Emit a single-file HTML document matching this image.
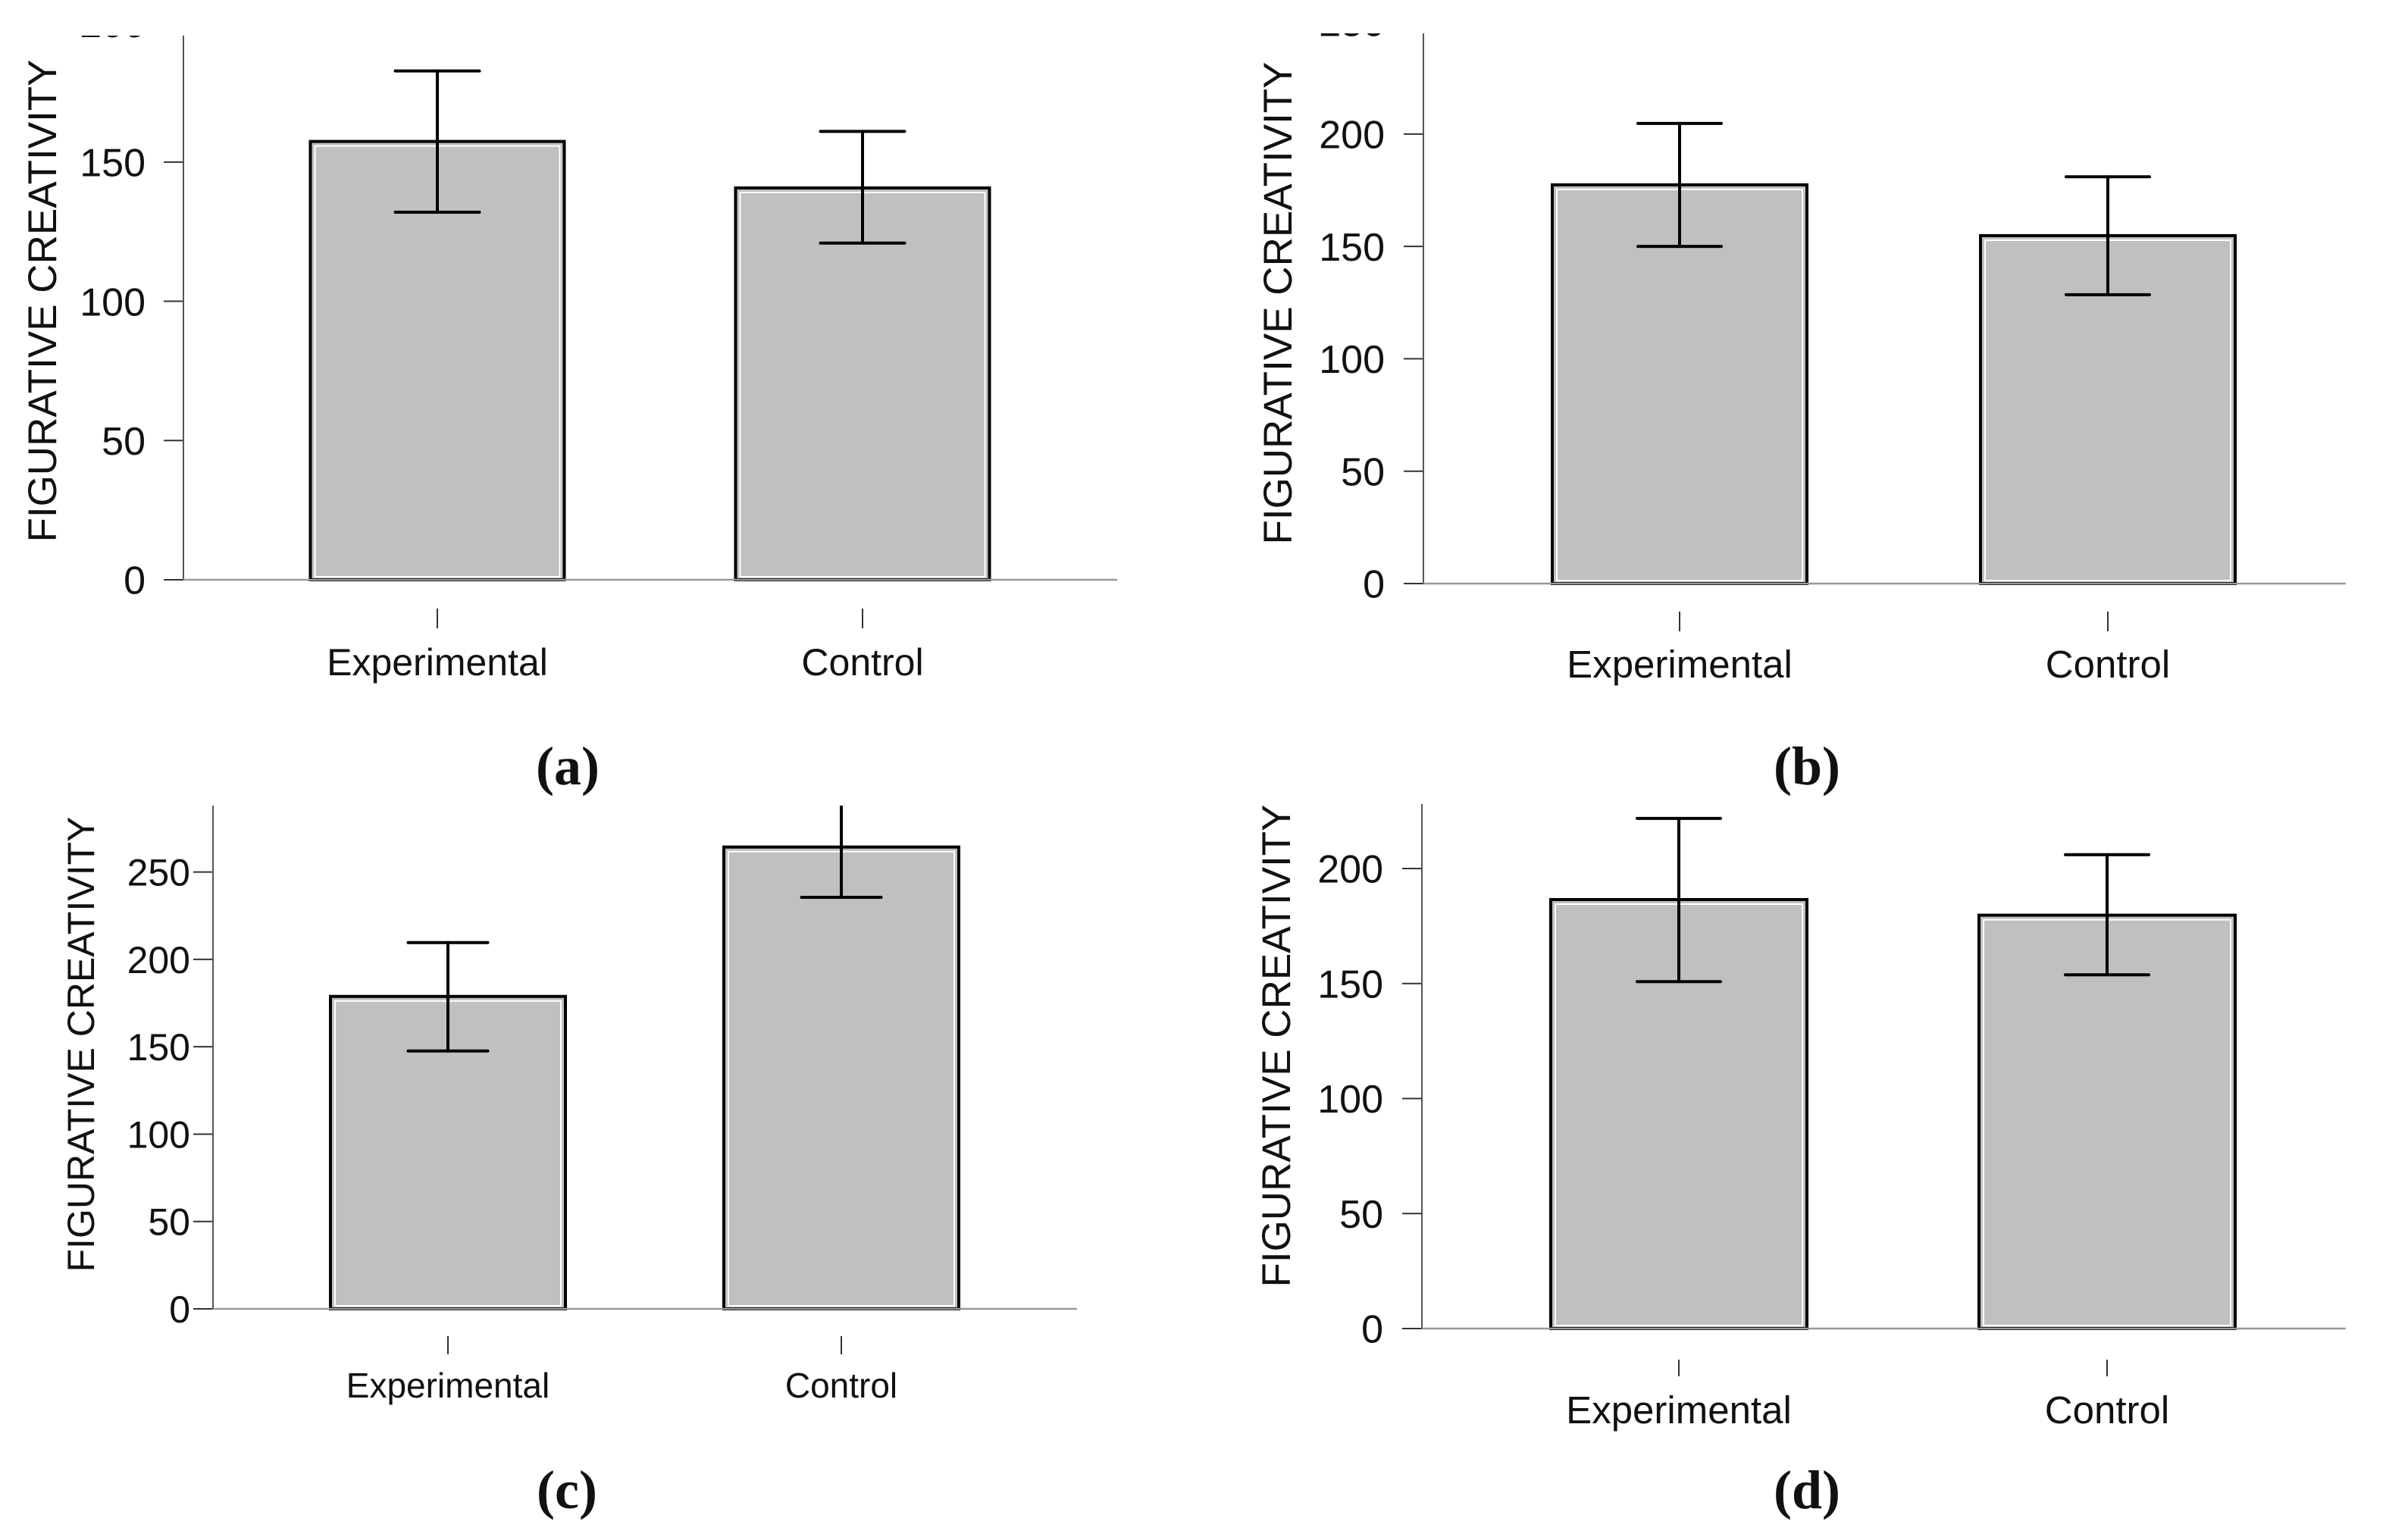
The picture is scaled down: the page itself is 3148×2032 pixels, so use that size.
<!DOCTYPE html>
<html><head><meta charset="utf-8"><style>
html,body{margin:0;padding:0;background:#fff;}
svg{display:block;}
text{font-family:"Liberation Sans",Arial,sans-serif;fill:#111;}
.pl{font-family:"Liberation Serif",serif;font-weight:bold;}
</style></head><body>
<svg id="fig" width="3148" height="2032" viewBox="0 0 3148 2032" xmlns="http://www.w3.org/2000/svg"></svg>
<script>
// ---- data ----
const categories = ["Experimental", "Control"];
const panelLetters = ["a", "b", "c", "d"];
const meansA = [157.4, 140.7];
const upperA = [182.7, 161.0];
const lowerA = [132.0, 120.9];
const meansB = [177.4, 154.8];
const upperB = [204.7, 181.0];
const lowerB = [150.0, 128.5];
const meansC = [178.8, 264.3];
const upperC = [209.6, 292.0];
const lowerC = [147.6, 235.5];
const meansD = [186.5, 179.7];
const upperD = [221.8, 206.0];
const lowerD = [150.8, 153.8];
const tickValues = [0, 50, 100, 150, 200, 250, 300];
const yTitle = "FIGURATIVE CREATIVITY";

// ---- layout (pixel geometry only) ----
const layouts = [
 {ox:0, ax:242, top:47, zero:765, yMax:195.4, end:1474, centers:[577,1138], bw:335, cap:111, tickY:[803,829], lblY:891, lblFs:50, tlFs:52, tlX:192, titleX:74, titleY:397, titleFs:53, plX:749, plY:1035},
 {ox:1574, ax:1878, top:44, zero:770, yMax:244.8, end:3095, centers:[2216,2781], bw:336, cap:110, tickY:[807,833], lblY:894, lblFs:51, tlFs:52, tlX:1827, titleX:1704, titleY:400, titleFs:53, plX:2384, plY:1035},
 {ox:0, ax:281, top:1063, zero:1727, yMax:288, end:1421, centers:[591,1110], bw:310, cap:105, tickY:[1763,1787], lblY:1844, lblFs:46, tlFs:50, tlX:251, titleX:124, titleY:1378, titleFs:50, plX:748, plY:1990},
 {ox:1574, ax:1876, top:1061, zero:1753, yMax:228, end:3095, centers:[2215,2780], bw:338, cap:110, tickY:[1794,1816], lblY:1878, lblFs:51, tlFs:52, tlX:1825, titleX:1702, titleY:1380, titleFs:53, plX:2384, plY:1990}
];
const panelData = [[meansA,upperA,lowerA],[meansB,upperB,lowerB],[meansC,upperC,lowerC],[meansD,upperD,lowerD]];

const NS = "http://www.w3.org/2000/svg";
const svg = document.getElementById("fig");
function mk(tag, attrs, parent){
  const e = document.createElementNS(NS, tag);
  for (const k in attrs) e.setAttribute(k, attrs[k]);
  parent.appendChild(e);
  return e;
}
const defs = mk("defs", {}, svg);

layouts.forEach((L, p) => {
  const [means, ups, lows] = panelData[p];
  const y = v => L.zero - (v / L.yMax) * (L.zero - L.top);
  const g = mk("g", {}, svg);
  
  
  const cp = mk("clipPath", {id: "clip" + p}, defs);
  mk("rect", {x: L.ox, y: L.top, width: 1574, height: 1016}, cp);
  const cg = mk("g", {"clip-path": "url(#clip" + p + ")"}, g);

  const t = mk("text", {x: 0, y: 0, "font-size": L.titleFs, "text-anchor": "middle",
    transform: "translate(" + L.titleX + "," + L.titleY + ") rotate(-90)"}, cg);
  t.textContent = yTitle;
  
  

  tickValues.forEach(v => {
    if (v > L.yMax + 40) return;
    const yy = y(v);
    const tk = mk("line", {x1: L.ax - 26, x2: L.ax, y1: yy, y2: yy, stroke: "#333", "stroke-width": 2}, cg);
    
    
    const tl = mk("text", {x: L.tlX, y: yy + L.tlFs * 0.36, "font-size": L.tlFs, "text-anchor": "end"}, cg);
    tl.textContent = v;
    
    
  });

  const ya = mk("line", {x1: L.ax, x2: L.ax, y1: L.top, y2: L.zero, stroke: "#555", "stroke-width": 2}, g);
  
  

  means.forEach((m, i) => {
    const cx = L.centers[i], x0 = cx - L.bw / 2;
    const b = mk("rect", {x: x0, y: y(m), width: L.bw, height: L.zero - y(m), fill: "#c0c0c0", stroke: "#000", "stroke-width": 4}, cg);
    
    
    mk("rect", {x: x0 + 6, y: y(m) + 6, width: L.bw - 12, height: L.zero - y(m) - 10, fill: "none", stroke: "#fff", "stroke-width": 2}, cg);
    const eg = mk("g", {stroke: "#000", "stroke-width": 4, "stroke-linecap": "round"}, cg);
    
    
    mk("line", {x1: cx, x2: cx, y1: y(ups[i]), y2: y(lows[i])}, eg);
    mk("line", {x1: cx - L.cap / 2, x2: cx + L.cap / 2, y1: y(ups[i]), y2: y(ups[i])}, eg);
    mk("line", {x1: cx - L.cap / 2, x2: cx + L.cap / 2, y1: y(lows[i]), y2: y(lows[i])}, eg);
    const xt = mk("line", {x1: cx, x2: cx, y1: L.tickY[0], y2: L.tickY[1], stroke: "#333", "stroke-width": 2}, g);
    
    
    const xl = mk("text", {x: cx, y: L.lblY, "font-size": L.lblFs, "text-anchor": "middle"}, g);
    xl.textContent = categories[i];
    
    
  });

  const xa = mk("line", {x1: L.ax, x2: L.end, y1: L.zero, y2: L.zero, stroke: "#999", "stroke-width": 2.5}, g);
  
  

  const pl = mk("text", {x: L.plX, y: L.plY, "font-size": 72, "text-anchor": "middle", "class": "pl"}, g);
  pl.textContent = "(" + panelLetters[p] + ")";
  
  
});
</script>
</body></html>
